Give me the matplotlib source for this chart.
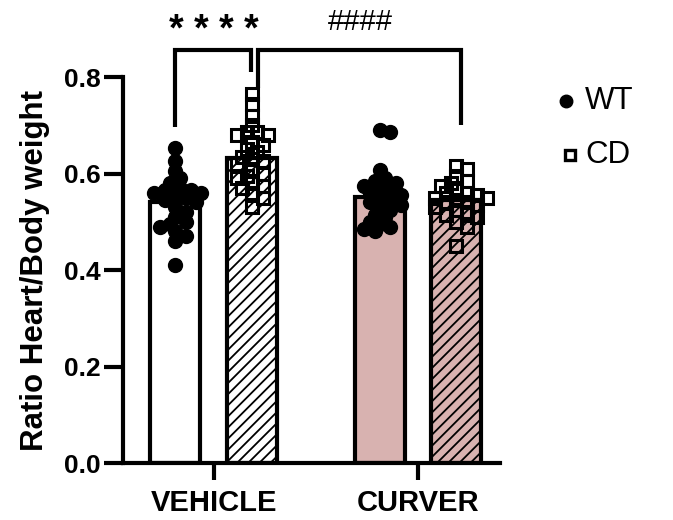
import numpy as np
import matplotlib.pyplot as plt

groups = ['VEHICLE', 'CURVER']
series = ['WT', 'CD']

wt_vehicle = [0.652, 0.625, 0.605, 0.59, 0.58, 0.57, 0.565, 0.565, 0.56, 0.56, 0.555, 0.55,
              0.545, 0.54, 0.53, 0.52, 0.51, 0.50, 0.495, 0.49, 0.48, 0.47, 0.46, 0.41]
cd_vehicle = [0.765, 0.745, 0.72, 0.70, 0.685, 0.685, 0.68, 0.68, 0.665, 0.66, 0.65, 0.645,
              0.635, 0.63, 0.625, 0.62, 0.61, 0.60, 0.595, 0.59, 0.58, 0.575, 0.57, 0.56, 0.55, 0.53]
wt_curver = [0.69, 0.685, 0.607, 0.59, 0.585, 0.58, 0.575, 0.57, 0.565, 0.56, 0.555, 0.55,
             0.545, 0.54, 0.535, 0.53, 0.525, 0.515, 0.51, 0.50, 0.495, 0.49, 0.485, 0.48]
cd_curver = [0.615, 0.61, 0.595, 0.585, 0.58, 0.575, 0.565, 0.56, 0.56, 0.555, 0.55, 0.55,
             0.545, 0.54, 0.54, 0.535, 0.53, 0.525, 0.52, 0.515, 0.51, 0.50, 0.49, 0.45]
bar_means = [0.541, 0.632, 0.551, 0.545]

plt.rcParams['font.family'] = ['Liberation Sans', 'DejaVu Sans']
plt.rcParams['hatch.linewidth'] = 1.3

fig = plt.figure(figsize=(6.73, 5.2), dpi=100)
ax = fig.add_axes([0.183, 0.1096, 0.56, 0.7423])

xpos = [0, 1, 2.66, 3.65]
ax.set_xlim(-0.675, 4.22)
ax.set_ylim(0, 0.8)

pink = '#d8b2b0'
faces = ['white', 'white', pink, pink]
hatches = [None, '///', None, '///']
for i in range(4):
    ax.bar(xpos[i], bar_means[i], width=0.65, color=faces[i], edgecolor='black',
           lw=3, hatch=hatches[i], zorder=1)


def swarm(vals, center, diam_px):
    # simple beeswarm: place each point as close to the center as possible
    pts = ax.transData.transform([(center, v) for v in vals])
    cx = pts[0, 0]
    placed = []
    xs = []
    step = diam_px * 0.4
    for (px, py) in pts:
        k = 0
        while True:
            for off in ([0] if k == 0 else [k * step, -k * step]):
                ok = all((px + off - qx) ** 2 + (py - qy) ** 2 >= (diam_px * 0.68) ** 2
                         for qx, qy in placed)
                if ok:
                    break
            else:
                k += 1
                continue
            break
        placed.append((cx + off, py))
        xs.append(cx + off)
    inv = ax.transData.inverted()
    return [inv.transform((x, 0))[0] for x in xs]


data = [wt_vehicle, cd_vehicle, wt_curver, cd_curver]
for i, vals in enumerate(data):
    xs = swarm(vals, xpos[i], 13)
    if i % 2 == 0:
        ax.plot(xs, vals, 'o', ms=10, color='black', mec='black', zorder=3, clip_on=False)
    else:
        ax.plot(xs, vals, 's', ms=9, mfc='none', mec='black', mew=2.2, zorder=3, clip_on=False)

# significance brackets
ax.plot([0, 0, 0.985, 0.985], [0.696, 0.856, 0.856, 0.81], color='black', lw=3,
        clip_on=False, solid_capstyle='butt', solid_joinstyle='miter')
ax.plot([1.08, 1.08, 3.71, 3.71], [0.777, 0.856, 0.856, 0.70], color='black', lw=3,
        clip_on=False, solid_capstyle='butt', solid_joinstyle='miter')
ax.text(0.5, 0.895, '* * * *', ha='center', va='center', fontsize=27, fontweight='bold')
ax.text(2.4, 0.915, '####', ha='center', va='center', fontsize=21)

for s in ['top', 'right']:
    ax.spines[s].set_visible(False)
for s in ['left', 'bottom']:
    ax.spines[s].set_linewidth(3)
ax.spines['left'].set_bounds(0, 0.8)

ax.set_yticks([0, 0.2, 0.4, 0.6, 0.8])
ax.set_yticklabels(['0.0', '0.2', '0.4', '0.6', '0.8'])
ax.set_xticks([0.5, 3.155])
ax.set_xticklabels(groups)
ax.tick_params(axis='y', length=14, width=3, pad=2, labelsize=19)
ax.tick_params(axis='x', length=12, width=3, pad=7, labelsize=21)
for lab in ax.get_xticklabels() + ax.get_yticklabels():
    lab.set_fontweight('bold')
ax.set_ylabel('Ratio Heart/Body weight', fontsize=22.5, fontweight='bold', labelpad=10)

# legend
ax.plot([566 / 673], [1 - 101 / 520], 'o', ms=9, color='black', transform=fig.transFigure, clip_on=False)
ax.plot([570 / 673], [1 - 155 / 520], 's', ms=7.5, mfc='none', mec='black', mew=2.4,
        transform=fig.transFigure, clip_on=False)
fig.text(585 / 673, 1 - 101 / 520, series[0], fontsize=22.5, va='center')
fig.text(585 / 673, 1 - 155 / 520, series[1], fontsize=22.5, va='center')

fig.savefig('out.png', dpi=100)
